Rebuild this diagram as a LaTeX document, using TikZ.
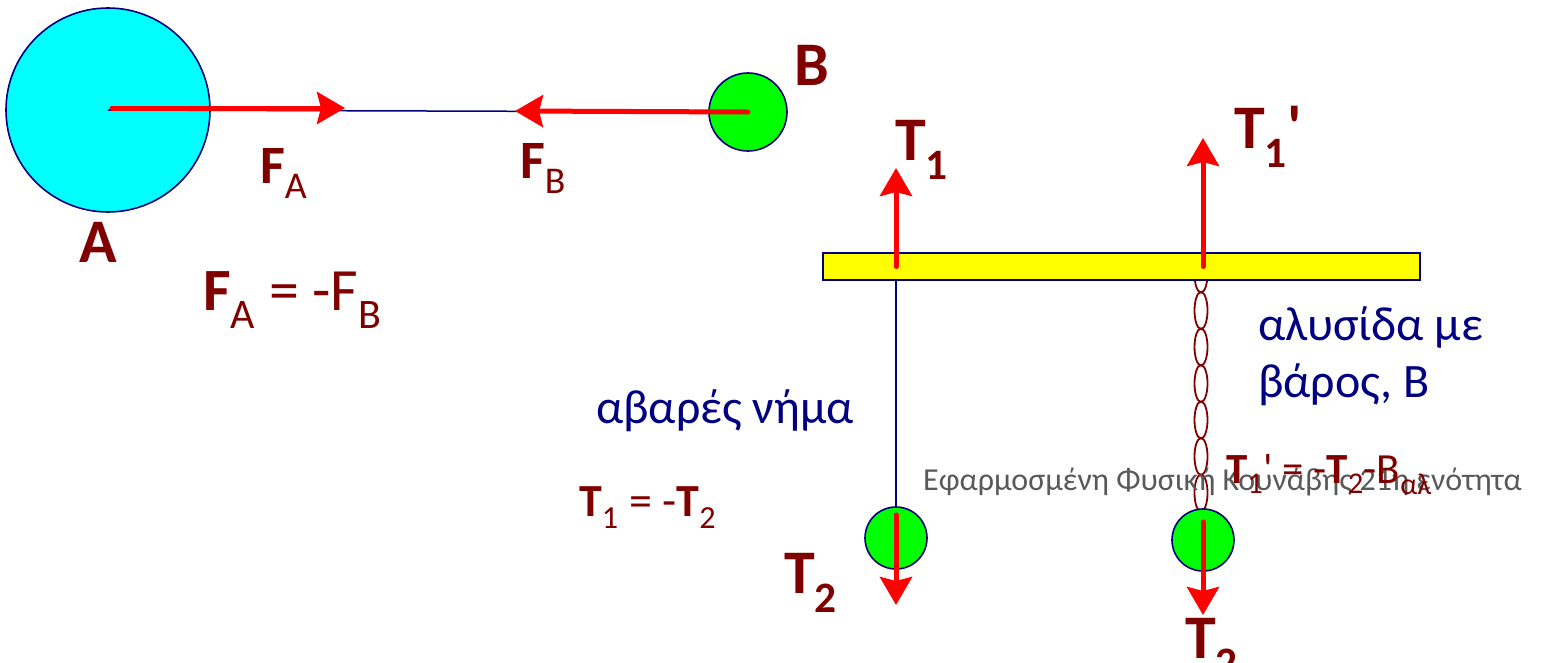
\documentclass[tikz,border=0pt]{standalone}
\usepackage{fontspec}
\setmainfont{Carlito}
\usepackage{tikz}
\usetikzlibrary{arrows.meta}
\definecolor{labelred}{RGB}{128,0,0}
\definecolor{textnavy}{RGB}{0,0,128}
\definecolor{massblue}{RGB}{0,255,255}
\definecolor{massgreen}{RGB}{0,255,0}
\definecolor{baryellow}{RGB}{255,255,0}
\definecolor{footgray}{RGB}{89,89,89}
\definecolor{forcered}{RGB}{255,0,0}
\newcommand{\fsz}[1]{\fontsize{#1}{#1}\selectfont}

\begin{document}
\begin{tikzpicture}[
        x=1pt,y=-1pt,
        mass/.style={circle,draw=textnavy,line width=1.6pt,inner sep=0pt},
        force/.style={-{Stealth[length=28pt,width=32pt,inset=4pt]},line width=5pt,draw=forcered,line cap=round},
        thread/.style={draw=textnavy,line width=1.5pt},
        chainlink/.style={draw=labelred,line width=1.8pt},
        biglabel/.style={text=labelred,font=\fsz{62}\bfseries,anchor=base,inner sep=0pt},
        midlabel/.style={text=labelred,font=\fsz{54},anchor=base west,inner sep=0pt},
        greektext/.style={text=textnavy,font=\fsz{48},anchor=base west,inner sep=0pt,align=left}
    ]
        \useasboundingbox (0,0) rectangle (1543,662);

        % two masses pulling on each other
        \node[mass,fill=massblue,minimum size=204pt] (massA) at (108,110) {};
        \node[mass,fill=massgreen,minimum size=78pt] (massB) at (748,112) {};
        \draw[thread] (massA.center) -- (massB.center);
        \coordinate (FAtip) at (345,108);
        \coordinate (FBtip) at (515,111);
        \draw[force] (112,108) -- (FAtip);
        \draw[force] (massB.center) -- (FBtip);

        \node[biglabel] (labA) at (98,262) {A};
        \node[biglabel] (labB) at (812,85) {B};
        \node[midlabel] (labFA) at (260,183) {{\bfseries F}\textsubscript{A}};
        \node[midlabel] (labFB) at (520,178) {{\bfseries F}\textsubscript{B}};
        \node[midlabel,font=\fsz{60}] (eqF) at (203,310) {{\bfseries F}\textsubscript{A} = -F\textsubscript{B}};

        % chain under the bar
        \foreach \y in {274,310.5,...,494} {
            \draw[chainlink] (1201,\y) ellipse (6.5 and 18.5);
        }

        \node[draw=textnavy,line width=1.6pt,fill=baryellow,minimum width=597pt,minimum height=27pt,inner sep=0pt] (bar) at (1121.5,266.5) {};

        \node[mass,fill=massgreen,minimum size=62pt] (bobL) at (896,538) {};
        \node[mass,fill=massgreen,minimum size=62pt] (bobR) at (1203,540) {};
        \draw[thread] (bar.south -| bobL.center) -- (bobL.north);

        \coordinate (T1tip) at (896,168);
        \coordinate (T1ptip) at (1203,138);
        \coordinate (T2Ltip) at (896,605);
        \coordinate (T2Rtip) at (1203,615);
        \draw[force] (bar.center -| bobL.center) -- (T1tip);
        \draw[force] (bar.center -| bobR.center) -- (T1ptip);
        \draw[force] (896,515) -- (T2Ltip);
        \draw[force] (1203,522) -- (T2Rtip);

        \node[biglabel,anchor=base west] (labT1) at (895,160) {T\textsubscript{1}};
        \node[biglabel,anchor=base west] (labT1p) at (1234,148) {T\textsubscript{1}\textquotesingle};
        \node[biglabel,anchor=base west] (labT2L) at (784,593) {T\textsubscript{2}};
        \node[biglabel,anchor=base west] (labT2R) at (1185,658) {T\textsubscript{2}};

        \node[greektext] (thin) at (596,423) {αβαρές νήμα};
        \node[midlabel,font=\fsz{46}] (eqT) at (579,516) {{\bfseries T}\textsubscript{1} = -{\bfseries T}\textsubscript{2}};
        \node[greektext] (heavy) at (1258,397) {αλυσίδα με\\[9pt]βάρος, Β};

        \node[text=footgray,font=\fsz{32},anchor=base west,inner sep=0pt] (footer) at (923,490) {Εφαρμοσμένη Φυσική Κουνάβης 21η ενότητα};
        \node[midlabel,font=\fsz{43}] (eqTp) at (1226,483) {{\bfseries T}\textsubscript{1}\textquotesingle{} = -{\bfseries T}\textsubscript{2}-B\textsubscript{αλ}};
    \end{tikzpicture}
\end{document}
